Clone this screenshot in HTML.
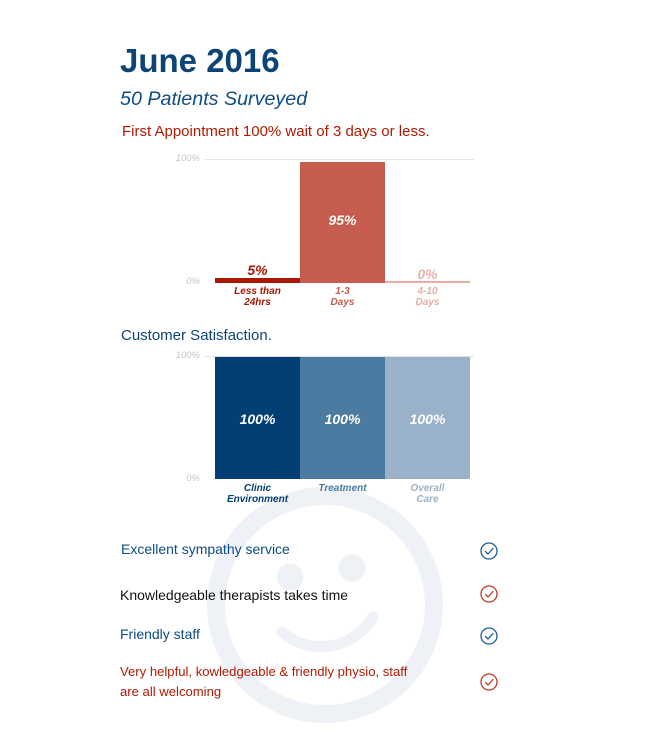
<!DOCTYPE html>
<html><head><meta charset="utf-8"><style>
html,body{margin:0;padding:0;background:#fff;}
body{width:650px;height:735px;position:relative;overflow:hidden;font-family:"Liberation Sans",Arial,sans-serif;}
.t{position:absolute;white-space:nowrap;line-height:1;}
.ax{position:absolute;font-size:9.5px;font-style:italic;color:#c6c6c6;width:40px;text-align:right;line-height:10px;}
.cat{position:absolute;width:85px;text-align:center;font-size:10px;font-weight:bold;font-style:italic;line-height:11px;}
.val{position:absolute;width:85px;text-align:center;font-size:14px;font-weight:bold;font-style:italic;line-height:14px;}
.bar{position:absolute;}
</style></head><body>
<svg style="position:absolute;left:0;top:0" width="650" height="735">
<g fill="none" stroke="#eef1f5">
<circle cx="325" cy="605" r="109" stroke-width="18"/>
<path d="M282 632 A60 60 0 0 0 373 617" stroke-width="11" stroke-linecap="round"/>
</g>
<circle cx="290" cy="577" r="13.5" fill="#eef1f5"/>
<circle cx="352" cy="568" r="13.5" fill="#eef1f5"/>
</svg>

<div class="t" style="left:120px;top:44px;font-size:33px;font-weight:bold;color:#0c4478;">June 2016</div>
<div class="t" style="left:120px;top:90px;font-size:19.7px;font-style:italic;color:#0d4c85;">50 Patients Surveyed</div>
<div class="t" style="left:122px;top:124px;font-size:15px;color:#b01a02;">First Appointment 100% wait of 3 days or less.</div>

<!-- chart 1 -->
<div style="position:absolute;left:205px;top:159px;width:269px;height:1px;background:#e2e2e2;"></div>
<div class="ax" style="left:160px;top:154px;">100%</div>
<div class="ax" style="left:160px;top:277px;">0%</div>
<div class="bar" style="left:215px;top:278px;width:85px;height:5px;background:#a81700;"></div>
<div class="bar" style="left:300px;top:162px;width:85px;height:121px;background:#c55c4e;"></div>
<div class="bar" style="left:385px;top:281px;width:85px;height:2px;background:#e9aca5;"></div>
<div class="val" style="left:215px;top:263px;color:#a81700;">5%</div>
<div class="val" style="left:300px;top:213px;color:#fff;">95%</div>
<div class="val" style="left:385px;top:267px;color:#ebb2ab;">0%</div>
<div class="cat" style="left:215px;top:286px;color:#a81700;">Less than<br>24hrs</div>
<div class="cat" style="left:300px;top:286px;color:#c55c4e;">1-3<br>Days</div>
<div class="cat" style="left:385px;top:286px;color:#e9aca5;">4-10<br>Days</div>

<div class="t" style="left:121px;top:328px;font-size:15px;color:#0c4478;">Customer Satisfaction.</div>

<!-- chart 2 -->
<div style="position:absolute;left:205px;top:356px;width:269px;height:1px;background:#e2e2e2;"></div>
<div class="ax" style="left:160px;top:351px;">100%</div>
<div class="ax" style="left:160px;top:474px;">0%</div>
<div class="bar" style="left:215px;top:357px;width:85px;height:122px;background:#033f74;"></div>
<div class="bar" style="left:300px;top:357px;width:85px;height:122px;background:#4b7ba1;"></div>
<div class="bar" style="left:385px;top:357px;width:85px;height:122px;background:#99b2c9;"></div>
<div class="val" style="left:215px;top:412px;color:#fff;">100%</div>
<div class="val" style="left:300px;top:412px;color:#fff;">100%</div>
<div class="val" style="left:385px;top:412px;color:#fff;">100%</div>
<div class="cat" style="left:215px;top:483px;color:#033f74;">Clinic<br>Environment</div>
<div class="cat" style="left:300px;top:483px;color:#4b7ba1;">Treatment</div>
<div class="cat" style="left:385px;top:483px;color:#99b2c9;">Overall<br>Care</div>

<!-- list -->
<div class="t" style="left:121px;top:542px;font-size:14px;color:#0d4c85;">Excellent sympathy service</div>
<div class="t" style="left:120px;top:588px;font-size:14px;color:#111;">Knowledgeable therapists takes time</div>
<div class="t" style="left:120px;top:627px;font-size:14px;color:#0d4c85;">Friendly staff</div>
<div class="t" style="left:120px;top:665px;font-size:13.1px;color:#b01a02;line-height:20px;margin-top:-3px;">Very helpful, kowledgeable &amp; friendly physio, staff<br>are all welcoming</div>

<svg style="position:absolute;left:0;top:0" width="650" height="735">
<g fill="none" stroke-width="1.3" stroke-linecap="round" stroke-linejoin="round">
<g stroke="#1d5b95">
<circle cx="489" cy="551" r="8"/><path d="M485.5 551.5 L488 554 L493 548.5"/>
<circle cx="489" cy="636" r="8"/><path d="M485.5 636.5 L488 639 L493 633.5"/>
</g>
<g stroke="#c0392b">
<circle cx="489" cy="594" r="8"/><path d="M485.5 594.5 L488 597 L493 591.5"/>
<circle cx="489" cy="682" r="8"/><path d="M485.5 682.5 L488 685 L493 679.5"/>
</g>
</g>
</svg>
</body></html>
